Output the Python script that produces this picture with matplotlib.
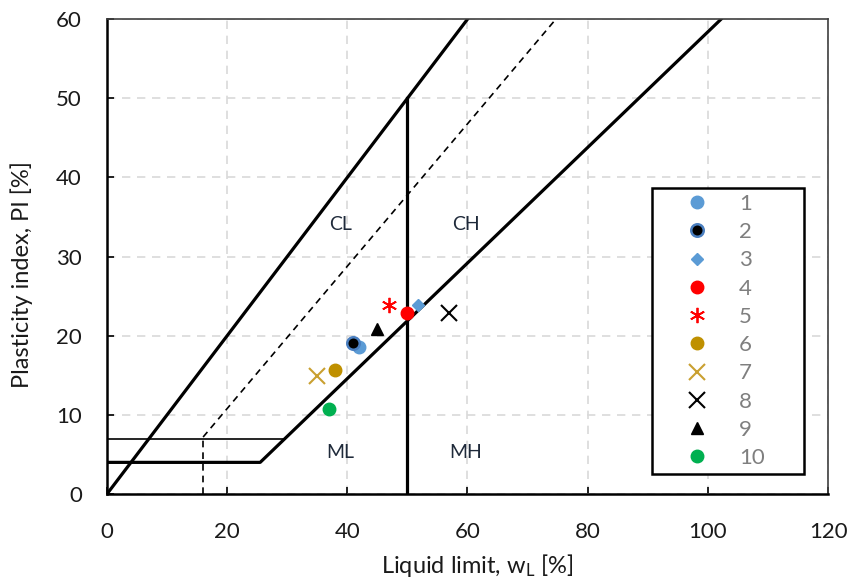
import matplotlib
matplotlib.use("Agg")
import matplotlib.pyplot as plt

plt.rcParams['font.family'] = ['Lato', 'DejaVu Sans']
plt.rcParams['mathtext.fontset'] = 'custom'
plt.rcParams['mathtext.rm'] = 'Lato'
plt.rcParams['mathtext.it'] = 'Lato'

# Soil samples: liquid limit and plasticity index [%]
labels = ["1", "2", "3", "4", "5", "6", "7", "8", "9", "10"]
liquid_limit = [42.0, 41.0, 51.8, 50.0, 47.0, 37.9, 35.0, 56.9, 44.9, 37.0]
plasticity = [18.6, 19.1, 23.9, 22.9, 23.9, 15.7, 14.9, 22.9, 20.8, 10.7]

# Casagrande chart boundary lines
a_line_ll = [0, 25.5, 102.2]
a_line_pi = [4, 4, 60]
limit_line_ll = [0, 60]
limit_line_pi = [0, 60]
u_line_ll = [16, 74.7]
u_line_pi = [7.2, 60]
cl_ml_ll = [0, 29.6]
cl_ml_pi = [7, 7]
u_vert_ll = [16, 16]
u_vert_pi = [0, 7]
ll50_ll = [50, 50]
ll50_pi = [0, 50]

zones = ["CL", "CH", "ML", "MH"]
zone_ll = [38.8, 59.7, 38.8, 59.7]
zone_pi = [34, 34, 5.3, 5.3]

# marker styles per sample
styles = [
    dict(marker="o", color="#5b9bd5", ms=9),
    dict(marker="o", color="black", mec="#4a7fc0", mew=1.8, ms=9),
    dict(marker="D", color="#5b9bd5", ms=6.5),
    dict(marker="o", color="#ff0000", ms=9),
    dict(marker=(6, 2, 0), color="#ff0000", ms=11, mew=1.3),
    dict(marker="o", color="#bf9000", ms=9),
    dict(marker="x", color="#c9a030", ms=12, mew=1.5),
    dict(marker="x", color="black", ms=12, mew=1.5),
    dict(marker="^", color="black", ms=8),
    dict(marker="o", color="#00b050", ms=9),
]

fig = plt.figure(figsize=(8.51, 5.81), dpi=100)
ax = fig.add_axes([0.1257, 0.1497, 0.8473, 0.8173])

ax.plot(a_line_ll, a_line_pi, color="black", lw=2.3, zorder=2)
ax.plot(limit_line_ll, limit_line_pi, color="black", lw=2.3, zorder=2)
ax.plot(ll50_ll, ll50_pi, color="black", lw=2.3, zorder=2)
ax.plot(cl_ml_ll, cl_ml_pi, color="black", lw=1.2, zorder=2)
ax.plot(u_line_ll, u_line_pi, color="black", lw=1.2, ls=(0, (4, 3)), zorder=2)
ax.plot(u_vert_ll, u_vert_pi, color="black", lw=1.2, ls=(0, (4, 3)), zorder=2)

for z, x, y in zip(zones, zone_ll, zone_pi):
    ax.text(x, y, z, ha="center", va="center", fontsize=14, color="#1f2a3a")

handles = []
for lab, x, y, st in zip(labels, liquid_limit, plasticity, styles):
    h, = ax.plot([x], [y], ls="none", label=lab, zorder=4, **st)
    handles.append(h)

ax.set_xlim(0, 120)
ax.set_ylim(0, 60)
ax.set_xticks(range(0, 121, 20))
ax.set_yticks(range(0, 61, 10))
ax.grid(True, color="#d9d9d9", ls=(0, (5, 4)), lw=1.2, zorder=0)
ax.set_axisbelow(True)
ax.tick_params(direction="in", length=5, width=1.2, labelsize=16,
               labelcolor="#1a1a1a", top=False, right=False)
ax.tick_params(axis="x", pad=20)
ax.tick_params(axis="y", pad=18)

ax.spines["left"].set_linewidth(1.8)
ax.spines["bottom"].set_linewidth(1.8)
for s in ["top", "right"]:
    ax.spines[s].set_linewidth(1.2)
    ax.spines[s].set_color("#404040")

ax.set_xlabel(r"Liquid limit, w$_\mathrm{L}$ [%]", fontsize=17, color="#1a1a1a")
ax.set_ylabel("Plasticity index, PI [%]", fontsize=17, color="#1a1a1a")
ax.xaxis.set_label_coords(0.513, -0.122)
ax.yaxis.set_label_coords(-0.103, 0.462)

leg = ax.legend(handles=handles, loc="upper left", bbox_to_anchor=(0.7555, 0.0526, 0.2112, 0.591),
                mode="expand", borderaxespad=0, fontsize=16, frameon=True, fancybox=False,
                edgecolor="black", framealpha=1, borderpad=0.25, handlelength=3.56,
                handletextpad=0.12, labelspacing=0.37, numpoints=1, labelcolor="#7f7f7f")
leg.get_frame().set_linewidth(1.8)

fig.savefig("out.png", dpi=100)
